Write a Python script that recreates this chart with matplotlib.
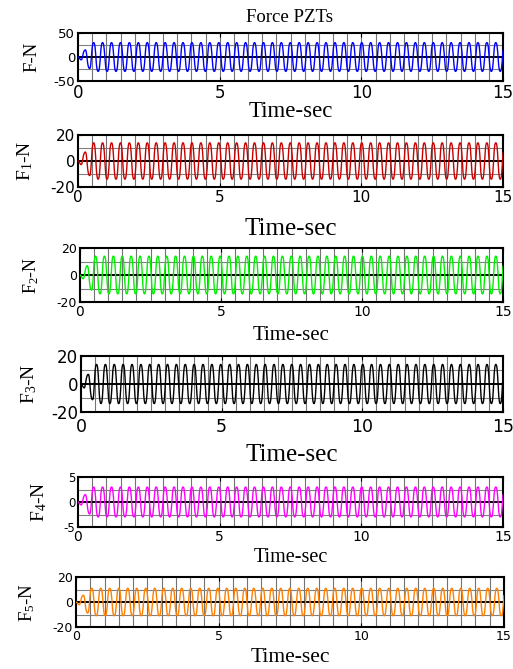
import numpy as np
import matplotlib.pyplot as plt

plt.rcParams['mathtext.fontset'] = 'custom'
plt.rcParams['mathtext.rm'] = 'Liberation Serif'
plt.rcParams['mathtext.it'] = 'Liberation Serif'
plt.rcParams['axes.unicode_minus'] = False

# signal parameters
t_end = 15.0
omega = 19.92          # rad/s, about 47.5 cycles in 15 s
ramp = 0.5             # s until full amplitude
flat = 1.2             # mild flattening of the peaks
amps = [30, 14, 14, 14, 3, 11]
ylims = [50, 20, 20, 20, 5, 20]
colors = ['#0000ff', '#c80000', '#00f000', '#000000', '#ff00ff', '#ff8000']
ylabels = ['F-N', r'F$_1$-N', r'F$_2$-N', r'F$_3$-N', r'F$_4$-N', r'F$_5$-N']
xticks = [0, 5, 10, 15]

W, H = 513, 669
boxes = [(78, 33, 503, 81), (78, 135, 503, 187), (80, 248, 503, 302),
         (81, 356, 503, 412), (78, 477, 503, 527), (76, 577, 504, 627)]
ytick_fs = [9.5, 11, 9, 12, 8.5, 9]
xtick_fs = [12, 11, 10, 12.5, 10, 9]
xtick_pad = [2.5, 2.5, 2.5, 4, 2.5, 2.5]
ylab_fs = [13.5, 14, 13, 14, 14, 13.5]
ylab_x = [32, 25, 31, 29, 39, 27]
xlab_fs = [16.5, 18, 15, 18, 14.5, 15.5]
xlab_base = [117, 235, 340, 461, 562, 662]

fig = plt.figure(figsize=(W / 100, H / 100), dpi=100)

t = np.arange(0, t_end + 0.001, 0.01)
env = np.clip(t / ramp, 0, 1)
wave = -np.tanh(flat * np.sin(omega * t)) / np.tanh(flat)

for i in range(6):
    l, tp, r, b = boxes[i]
    ax = fig.add_axes([l / W, 1 - b / H, (r - l) / W, (b - tp) / H])
    y = amps[i] * env * wave
    for xv in np.arange(0.5, 15, 0.5):
        ax.axvline(xv, color='0.45', lw=0.8, zorder=1)
    for yv in (-ylims[i] / 2, ylims[i] / 2):
        ax.axhline(yv, color='0.5', lw=0.8, zorder=1)
    ax.axhline(0, color='black', lw=1.4, zorder=2)
    ax.plot(t, y, color=colors[i], lw=1.0, zorder=3)
    ax.set_xlim(0, 15)
    ax.set_ylim(-ylims[i], ylims[i])
    ax.set_xticks(xticks)
    ax.set_yticks([-ylims[i], 0, ylims[i]])
    ax.tick_params(direction='in', length=3, top=True, right=True)
    ax.tick_params(axis='x', labelsize=xtick_fs[i], pad=xtick_pad[i])
    ax.tick_params(axis='y', labelsize=ytick_fs[i], pad=2)
    for lab in ax.get_xticklabels() + ax.get_yticklabels():
        lab.set_fontfamily('DejaVu Sans')
    for s in ax.spines.values():
        s.set_linewidth(1.5)
    fig.text(ylab_x[i] / W, 1 - (tp + b) / 2 / H, ylabels[i], rotation=90,
             ha='center', va='center', fontsize=ylab_fs[i], family='Liberation Serif')
    fig.text((l + r) / 2 / W, 1 - xlab_base[i] / H, 'Time-sec', ha='center',
             va='baseline', fontsize=xlab_fs[i], family='Liberation Serif')

fig.text(289 / W, 1 - 22 / H, 'Force PZTs', ha='center', va='baseline',
         fontsize=13.5, family='Liberation Serif')

fig.savefig('out.png', dpi=100)
